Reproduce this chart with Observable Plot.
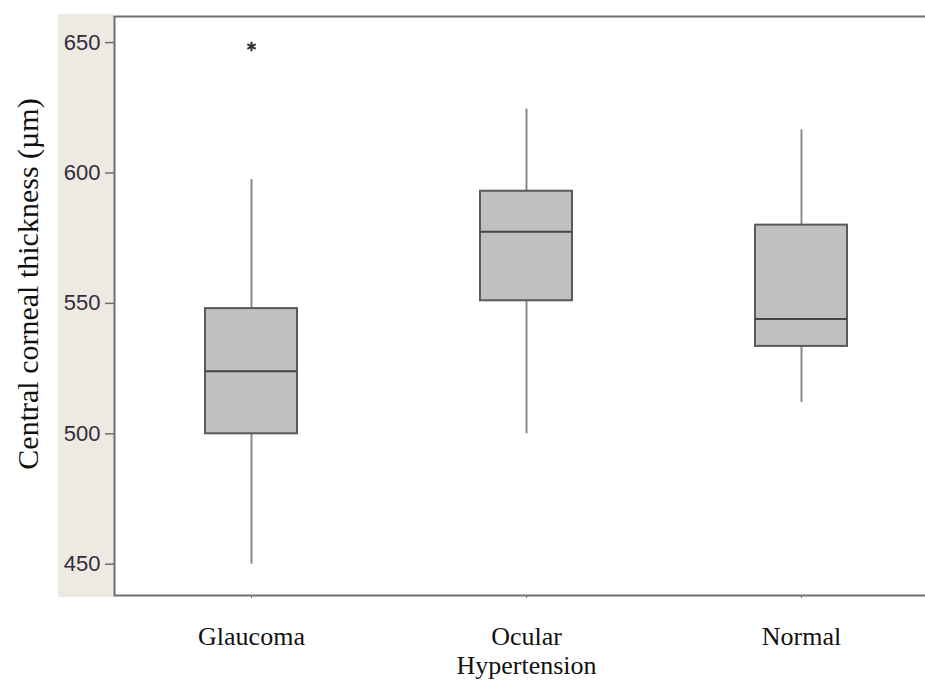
<!DOCTYPE html>
<html><head><meta charset="utf-8">
<script src="https://cdn.jsdelivr.net/npm/d3@7"></script>
<script src="https://cdn.jsdelivr.net/npm/@observablehq/plot@0.6"></script>
<style>
html,body{margin:0;padding:0;background:#fff;overflow:hidden;width:925px;height:680px}
#chart{position:relative;width:925px;height:680px}
</style></head><body><div id="chart"></div>
<script>
// ---- data ----
const groups = ["Glaucoma", "Ocular Hypertension", "Normal"];
const groupLabels = ["Glaucoma", "Ocular\nHypertension", "Normal"];
const whiskerLow = [450, 500, 512];
const q1 = [500, 551, 533.5];
const median = [524, 577.5, 544];
const q3 = [548, 593, 580];
const whiskerHigh = [597.5, 624.5, 616.5];
const outlierGroup = ["Glaucoma"];
const outlierValue = [648.5];
const yTicks = [450, 500, 550, 600, 650];
const yLabel = "Central corneal thickness (µm)";

const stats = groups.map((g, i) => ({group: g, label: groupLabels[i], lo: whiskerLow[i], q1: q1[i], med: median[i], q3: q3[i], hi: whiskerHigh[i]}));
const outliers = outlierGroup.map((g, i) => ({group: g, value: outlierValue[i]}));

const W = 925, H = 680, mL = 114, mT = 16, mB = 85, mR = -14;
const serif = "'Liberation Serif', 'Times New Roman', serif";
const sans = "'Liberation Sans', Arial, sans-serif";

const plot = Plot.plot({
  width: W, height: H,
  marginLeft: mL, marginTop: mT, marginBottom: mB, marginRight: mR,
  style: {background: "white", fontFamily: sans},
  x: {domain: groups, range: [mL, W - mR], paddingInner: 0.665, paddingOuter: 0.3325, align: 0.5},
  y: {domain: [438, 660]},
  marks: [
    Plot.ruleX(stats, {x: "group", y1: "lo", y2: "q1", stroke: "#8a8a8a", strokeWidth: 2}),
    Plot.ruleX(stats, {x: "group", y1: "q3", y2: "hi", stroke: "#8a8a8a", strokeWidth: 2}),
    Plot.barY(stats, {x: "group", y1: "q1", y2: "q3", fill: "#c0c0c0", stroke: "#5a5a5a", strokeWidth: 2}),
    Plot.tickY(stats, {x: "group", y: "med", stroke: "#454545", strokeWidth: 2}),
    Plot.dot(outliers, {x: "group", y: "value", symbol: "asterisk", r: 4.5, stroke: "#333", strokeWidth: 2}),
    Plot.frame({stroke: "#6e6e6e", strokeWidth: 2}),
    Plot.axisY({ticks: yTicks, tickSize: 9, tickPadding: 5, stroke: "#6e6e6e", strokeWidth: 1.5, fill: "#2e2e3e", fontSize: 22, fontFamily: sans, label: null}),
    Plot.axisX({tickSize: 3, stroke: "#6e6e6e", fill: "none", label: null}),
    Plot.text(stats, {x: "group", text: "label", frameAnchor: "bottom", lineAnchor: "top", dy: 29, fontSize: 26, fontFamily: serif, fill: "#111", lineHeight: 1.115}),
    Plot.text([yLabel], {text: d => d, frameAnchor: "left", textAnchor: "middle", dx: -86, dy: -22, rotate: -90, fontSize: 30, fontFamily: serif, fill: "#111"})
  ]
});

// beige side panel behind the y axis (decoration)
d3.select(plot).insert("rect", ":first-child")
  .attr("x", 58).attr("y", mT - 2).attr("width", mL - 58).attr("height", H - mB - mT + 4)
  .attr("fill", "#eeeae1");

document.getElementById("chart").appendChild(plot);
</script></body></html>
